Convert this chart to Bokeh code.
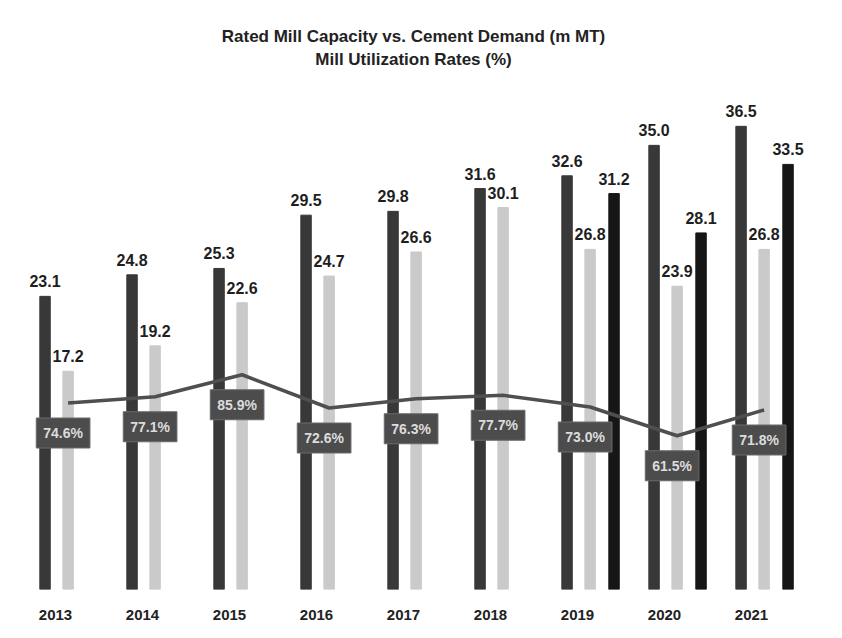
from bokeh.plotting import figure
from bokeh.models import ColumnDataSource, Range1d, FixedTicker, Title
from bokeh.core.properties import value
from bokeh.embed import file_html
from bokeh.resources import INLINE

years = ["2013", "2014", "2015", "2016", "2017", "2018", "2019", "2020", "2021"]
capacity = [23.1, 24.8, 25.3, 29.5, 29.8, 31.6, 32.6, 35.0, 36.5]
demand = [17.2, 19.2, 22.6, 24.7, 26.6, 30.1, 26.8, 23.9, 26.8]
extra_years = ["2019", "2020", "2021"]
extra = [31.2, 28.1, 33.5]
utilization = [74.6, 77.1, 85.9, 72.6, 76.3, 77.7, 73.0, 61.5, 71.8]
util_labels = ["74.6%", "77.1%", "85.9%", "72.6%", "76.3%", "77.7%", "73.0%", "61.5%", "71.8%"]

FONT = "'Liberation Sans', Arial, sans-serif"

idx = list(range(len(years)))
cap_x = [i - 0.12 for i in idx]
dem_x = [i + 0.145 for i in idx]
ext_x = [years.index(y) + 0.42 for y in extra_years]

cap_src = ColumnDataSource(dict(x=cap_x, v=capacity, t=[f"{v:.1f}" for v in capacity]))
dem_src = ColumnDataSource(dict(x=dem_x, v=demand, t=[f"{v:.1f}" for v in demand]))
ext_src = ColumnDataSource(dict(x=ext_x, v=extra, t=[f"{v:.1f}" for v in extra]))
utl_src = ColumnDataSource(dict(x=dem_x, u=utilization, t=util_labels))

p = figure(width=826, height=622, output_backend="svg", toolbar_location=None,
           x_range=Range1d(-0.632, 8.862), y_range=Range1d(0, 40.9),
           min_border_left=0, min_border_right=0, min_border_top=70, min_border_bottom=33,
           title="Rated Mill Capacity vs. Cement Demand (m MT)")
p.extra_y_ranges = {"pct": Range1d(0, 207.6)}
p.outline_line_color = None
p.xgrid.visible = False
p.ygrid.visible = False
p.yaxis.visible = False
p.background_fill_color = "white"
p.border_fill_color = "white"

p.title.align = "center"
p.title.text_font = FONT
p.title.text_font_size = "17px"
p.title.text_color = "#222222"
p.title.standoff = 0
p.add_layout(Title(text="Mill Utilization Rates (%)", align="center", standoff=4,
                   text_font=FONT, text_font_size="17px", text_color="#222222"), "above")

xa = p.xaxis[0]
xa.ticker = FixedTicker(ticks=idx)
xa.major_label_overrides = {i: y for i, y in zip(idx, years)}
xa.axis_line_color = None
xa.major_tick_line_color = None
xa.minor_tick_line_color = None
xa.major_label_standoff = 14
xa.major_label_text_font = FONT
xa.major_label_text_font_size = "15px"
xa.major_label_text_font_style = "bold"
xa.major_label_text_color = "#222222"

W = 0.12
p.vbar(x="x", top="v", bottom=0, width=W, source=cap_src, color="#383838")
p.vbar(x="x", top="v", bottom=0, width=W, source=dem_src, color="#cacaca")
p.vbar(x="x", top="v", bottom=0, width=W, source=ext_src, color="#161616")

for src in (cap_src, dem_src, ext_src):
    p.text(x="x", y="v", text="t", source=src, text_align="center", text_baseline="bottom",
           y_offset=-9, text_font=value(FONT), text_font_size="16px",
           text_font_style="bold", text_color="#1e1e1e")

p.line(x="x", y="u", source=utl_src, y_range_name="pct", line_width=3.5, line_color="#4f4f4f")

p.text(x="x", y="u", text="t", source=utl_src, y_range_name="pct",
       text_align="center", text_baseline="middle", x_offset=-5, y_offset=30,
       text_font=value(FONT), text_font_size="14px", text_font_style="bold",
       text_color="#dcdcdc", background_fill_color="#4c4c4c",
       border_line_color="#6a6a6a", padding=7)

open("out.html", "w").write(file_html(p, INLINE))
